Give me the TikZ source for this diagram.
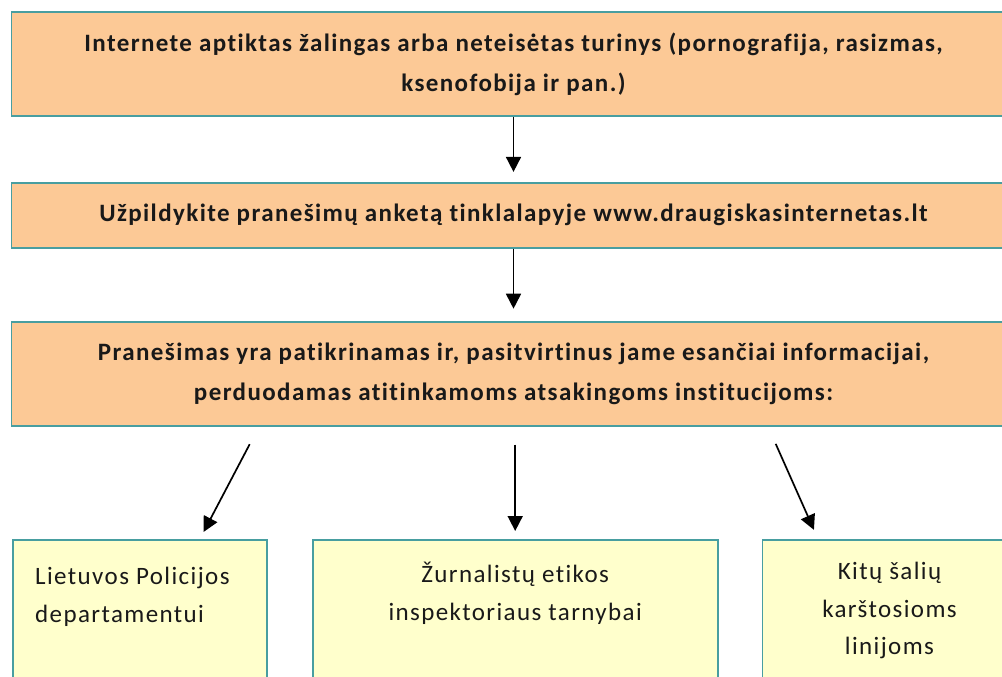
\documentclass[tikz,border=0pt]{standalone}
\usepackage{fontspec}
\setmainfont{Carlito}[LetterSpace=5.6,Ligatures=NoCommon]
\usetikzlibrary{positioning,arrows.meta}
\definecolor{peach}{RGB}{252,201,150}
\definecolor{paleyellow}{RGB}{255,255,204}
\definecolor{tealline}{RGB}{72,158,160}
\definecolor{ink}{RGB}{25,25,25}

\begin{document}
\begin{tikzpicture}[x=1pt,y=1pt]
	\tikzset{>={Triangle[length=15pt,width=15pt]}}
	\tikzset{stepbox/.style={draw=tealline,line width=1.8pt,fill=peach,minimum width=1004pt,align=center,text=ink,font=\fontsize{25}{40}\selectfont\bfseries}}
	\tikzset{endbox/.style={draw=tealline,line width=1.8pt,fill=paleyellow,minimum height=170pt,anchor=north west}}
	\tikzset{endtext/.style={inner sep=0,text=ink,font=\fontsize{25}{37.5}\selectfont}}
	\tikzset{flow/.style={->,line width=1.7pt,black}}
	\useasboundingbox (0,0) rectangle (1002,-677);
	\clip (0,0) rectangle (1002,-677);
	
	% The three steps
	\node (found) at (513.5,-64) [stepbox,minimum height=104pt] {Internete aptiktas žalingas arba neteisėtas turinys (pornografija, rasizmas,\\ksenofobija ir pan.)};
	\node[below = 65pt of found, stepbox, minimum height=65pt] (form) {Užpildykite pranešimų anketą tinklalapyje www.draugiskasinternetas.lt};
	\node[below = 72pt of form, stepbox, minimum height=104pt] (check) {Pranešimas yra patikrinamas ir, pasitvirtinus jame esančiai informacijai,\\perduodamas atitinkamoms atsakingoms institucijoms:};
	
	% The receiving institutions
	\node (police) at (12,-539) [endbox,minimum width=254pt] {};
	\node[right = 44pt of police, endbox, anchor=west, minimum width=405pt] (journal) {};
	\node[right = 43pt of journal, endbox, anchor=west, minimum width=254pt] (hot) {};
	
	\node[below right = 28pt and 23pt of police.north west, endtext, align=left] (police_t) {Lietuvos Policijos\\departamentui};
	\node[below = 23pt of journal.north, endtext, align=center] (journal_t) {Žurnalistų etikos\\inspektoriaus tarnybai};
	\node[below = 23pt of hot.north, endtext, align=center] (hot_t) {Kitų šalių\\karštosioms\\linijoms};
	
	% Arrows between the steps
	\draw[flow, shorten >=10pt] (found) -- (form);
	\draw[flow, shorten >=12pt] (form) -- (check);
	\draw[flow, shorten <=20pt, shorten >=8pt] ([xshift=-254.5pt]check.south) -- ([xshift=60pt]police.north);
	\draw[flow, shorten <=18pt, shorten >=8pt] (check.south -| journal.north) -- (journal.north);
	\draw[flow, shorten <=19pt, shorten >=10pt] ([xshift=254.5pt]check.south) -- ([xshift=-71.5pt]hot.north);
	
\end{tikzpicture}
\end{document}
